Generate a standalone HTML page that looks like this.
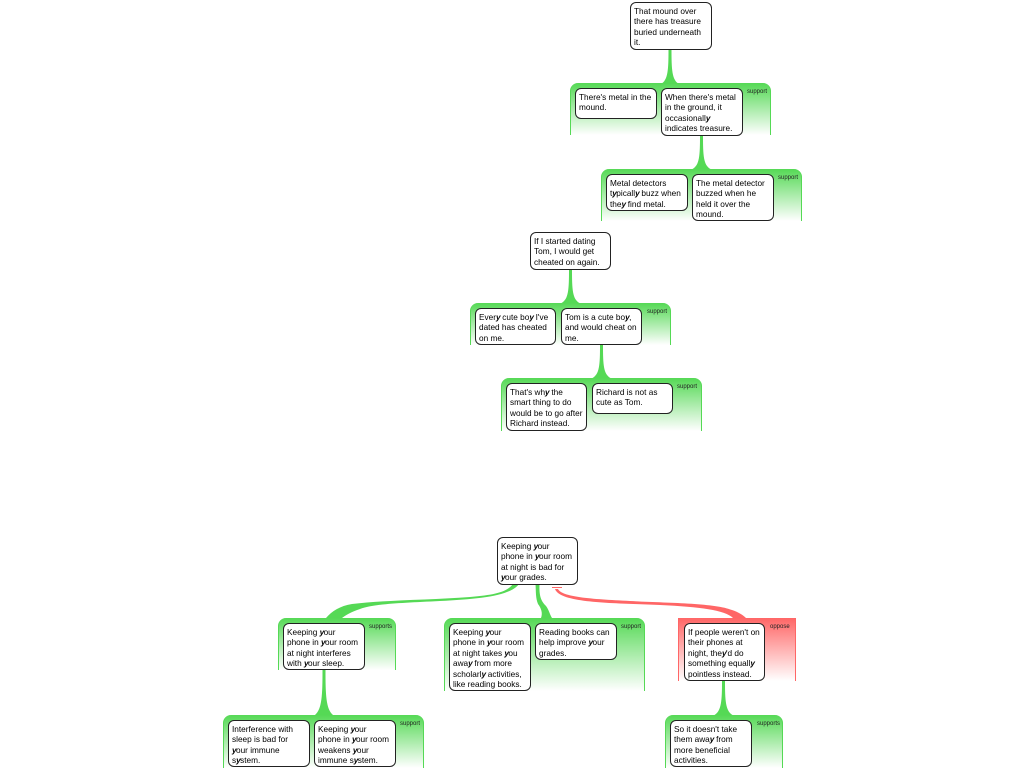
<!DOCTYPE html>
<html><head><meta charset="utf-8"><style>
html,body{margin:0;padding:0;background:#fff}
#p{position:relative;width:1024px;height:768px;overflow:hidden;font-family:"Liberation Sans",sans-serif;filter:blur(0.25px)}
.g{position:absolute;box-sizing:border-box;border:solid #55d955;border-width:0 1px;border-radius:8px 8px 0 0;background:linear-gradient(#55d955,#fff)}
.g.r{border-color:#ff6666;border-radius:0;background:linear-gradient(#ff6666,#fff)}
.l{position:absolute;font-size:6px;line-height:8px;color:#222;white-space:nowrap}
.b{position:absolute;box-sizing:border-box;background:#fff;border:1px solid #222;border-radius:6px;padding:3.6px 0 0 3px;font-size:8.25px;line-height:10.5px;color:#000;white-space:nowrap}
i{font-weight:bold;font-style:italic;letter-spacing:-0.6px}
svg{position:absolute;left:0;top:0}
</style></head><body><div id="p">
<div class="g" style="left:570px;top:83px;width:201px;height:52px"></div>
<div class="g" style="left:601px;top:169px;width:201px;height:52px"></div>
<div class="g" style="left:470px;top:303px;width:201px;height:42px"></div>
<div class="g" style="left:501px;top:378px;width:201px;height:53px"></div>
<div class="g" style="left:444px;top:618px;width:201px;height:73px"></div>
<div class="g r" style="left:678px;top:618px;width:118px;height:63px"></div>
<div class="g" style="left:278px;top:618px;width:118px;height:52px"></div>
<div class="g" style="left:223px;top:715px;width:201px;height:53px"></div>
<div class="g" style="left:665px;top:715px;width:118px;height:53px"></div>
<svg width="1024" height="768" viewBox="0 0 1024 768">
<g fill="#55d955">
<path d="M668.500 49h3C671.500 70 672 80 679 84H661C668 80 668.500 70 668.500 49Z"/>
<path d="M700 135h3C703 156 703.500 165 710.500 169H692.500C699.500 165 700 156 700 135Z"/>
<path d="M569 269h3C572 290 572.500 299 579.500 303H561.500C568.500 299 569 290 569 269Z"/>
<path d="M600 345h3C603 365 603.500 374 610.500 378H592.500C599.500 374 600 365 600 345Z"/>
<path d="M322.500 670h3C325.500 695 326 709 333 715H315C322 709 322.500 695 322.500 670Z"/>
<path d="M722 681h3C725 700 725.500 711 732.500 715H714.500C721.500 711 722 700 722 681Z"/>
<path d="M535.500 584h4C539 596 541 601 546 606C549 610 550 615 552 618H541C543 613 541 608 538 604C535.500 598 536 592 535.500 584Z"/>
<path d="M513 584h6C510 596 480 599 440 601C400 603 372 604 360 609C351 612 346 615 342 618H326C332 611 340 606 352 604C385 600 430 600 470 597C495 595 507 592 513 584Z"/>
</g>
<g fill="#ff6666">
<rect x="552" y="587" width="10" height="1"/>
<path d="M555 589h3C562 597 590 599 630 601C670 603 715 603 732 610C738 612 743 615 746 618H733C725 610 700 607 660 605C620 603 560 604 555 589Z"/>
</g>
</svg>
<div class="l" style="left:747px;top:88px">support</div>
<div class="l" style="left:778px;top:174px">support</div>
<div class="l" style="left:647px;top:308px">support</div>
<div class="l" style="left:677px;top:383px">support</div>
<div class="l" style="left:621px;top:623px">support</div>
<div class="l" style="left:770px;top:623px">oppose</div>
<div class="l" style="left:369px;top:623px">supports</div>
<div class="l" style="left:400px;top:720px">support</div>
<div class="l" style="left:757px;top:720px">supports</div>

<div class="b" style="left:630px;top:2px;width:82px;height:48px">That mound over<br>there has treasure<br>buried underneath<br>it.</div>
<div class="b" style="left:575px;top:88px;width:82px;height:31px">There's metal in the<br>mound.</div>
<div class="b" style="left:661px;top:88px;width:82px;height:48px">When there's metal<br>in the ground, it<br>occasionall<i>y</i><br>indicates treasure.</div>
<div class="b" style="left:606px;top:174px;width:82px;height:37px">Metal detectors<br>t<i>y</i>picall<i>y</i> buzz when<br>the<i>y</i> find metal.</div>
<div class="b" style="left:692px;top:174px;width:82px;height:47px">The metal detector<br>buzzed when he<br>held it over the<br>mound.</div>
<div class="b" style="left:530px;top:232px;width:81px;height:38px">If I started dating<br>Tom, I would get<br>cheated on again.</div>
<div class="b" style="left:475px;top:308px;width:81px;height:37px">Ever<i>y</i> cute bo<i>y</i> I've<br>dated has cheated<br>on me.</div>
<div class="b" style="left:561px;top:308px;width:81px;height:37px">Tom is a cute bo<i>y</i>,<br>and would cheat on<br>me.</div>
<div class="b" style="left:506px;top:383px;width:81px;height:48px">That's wh<i>y</i> the<br>smart thing to do<br>would be to go after<br>Richard instead.</div>
<div class="b" style="left:592px;top:383px;width:81px;height:31px">Richard is not as<br>cute as Tom.</div>
<div class="b" style="left:497px;top:537px;width:81px;height:48px">Keeping <i>y</i>our<br>phone in <i>y</i>our room<br>at night is bad for<br><i>y</i>our grades.</div>
<div class="b" style="left:283px;top:623px;width:82px;height:47px">Keeping <i>y</i>our<br>phone in <i>y</i>our room<br>at night interferes<br>with <i>y</i>our sleep.</div>
<div class="b" style="left:449px;top:623px;width:82px;height:68px">Keeping <i>y</i>our<br>phone in <i>y</i>our room<br>at night takes <i>y</i>ou<br>awa<i>y</i> from more<br>scholarl<i>y</i> activities,<br>like reading books.</div>
<div class="b" style="left:535px;top:623px;width:82px;height:37px">Reading books can<br>help improve <i>y</i>our<br>grades.</div>
<div class="b" style="left:684px;top:623px;width:81px;height:58px">If people weren't on<br>their phones at<br>night, the<i>y</i>'d do<br>something equall<i>y</i><br>pointless instead.</div>
<div class="b" style="left:228px;top:720px;width:82px;height:47px">Interference with<br>sleep is bad for<br><i>y</i>our immune<br>s<i>y</i>stem.</div>
<div class="b" style="left:314px;top:720px;width:82px;height:47px">Keeping <i>y</i>our<br>phone in <i>y</i>our room<br>weakens <i>y</i>our<br>immune s<i>y</i>stem.</div>
<div class="b" style="left:670px;top:720px;width:82px;height:47px">So it doesn't take<br>them awa<i>y</i> from<br>more beneficial<br>activities.</div>
</div></body></html>
